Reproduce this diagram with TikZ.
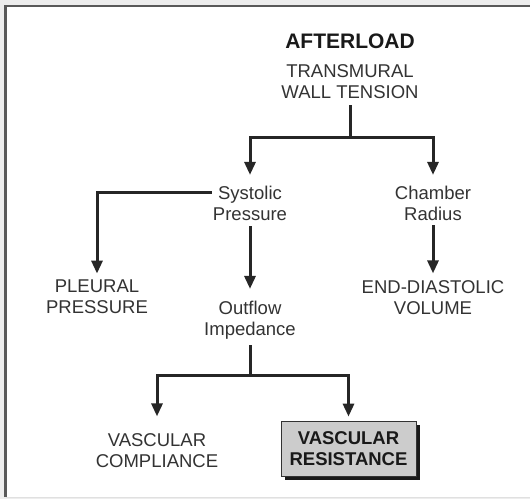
\documentclass[tikz,border=0pt]{standalone}
\usepackage{fontspec}
\setmainfont{Liberation Sans}
\usetikzlibrary{arrows.meta,shadows}
\begin{document}
\begin{tikzpicture}[x=1pt,y=-1pt,
  lbl/.style={align=center,inner sep=0pt,anchor=base,
    font=\fontsize{18.5}{20.5}\selectfont,text=black!80},
  title/.style={lbl,font=\bfseries\fontsize{21}{23}\selectfont,text=black!90},
  hibox/.style={align=center,inner sep=0pt,draw=black!80,line width=0.8pt,
    fill=black!20,minimum width=135pt,minimum height=55pt,
    font=\bfseries\fontsize{18.5}{21}\selectfont,text=black!90,
    drop shadow={shadow xshift=4pt,shadow yshift=-4pt,fill=black!90,opacity=1}},
  conn/.style={line width=3pt,draw=black!85,line join=miter},
  arr/.style={conn,-{Triangle[length=13pt,width=11pt]}}]
% background and frame
\useasboundingbox (0,0) rectangle (530,499);
\fill[black!7] (0,0) rectangle (530,499);
\fill[white] (5,6) rectangle (530,496.5);
\draw[black!65,line width=2.5pt] (5.5,497) -- (5.5,6.2) -- (530,6.2);
\draw[black!12,line width=0.8pt] (6,497) -- (530,497);
% nodes (anchor base = baseline of last line)
\node[title] (after) at (350,48) {AFTERLOAD};
\node[lbl] (tension) at (350,98) {TRANSMURAL\\WALL TENSION};
\node[lbl] (sys) at (250,220) {Systolic\\Pressure};
\node[lbl] (cham) at (433,220) {Chamber\\Radius};
\node[lbl] (pleu) at (97,313) {PLEURAL\\PRESSURE};
\node[lbl] (edv) at (433,314) {END-DIASTOLIC\\VOLUME};
\node[lbl] (outf) at (250,335) {Outflow\\Impedance};
\node[lbl] (comp) at (157,467) {VASCULAR\\COMPLIANCE};
\node[hibox] (res) at (348.5,448.5) {VASCULAR\\RESISTANCE};
% junctions
\coordinate (j1) at (350,137);
\coordinate (j3) at (250,375);
% connectors
\draw[conn] ([yshift=-7pt]tension.south) -- (j1);
\draw[arr] (j1) -| ([yshift=11pt]sys.north);
\draw[arr] (j1) -| ([yshift=11pt]cham.north);
\draw[arr] ([xshift=-1pt,yshift=27.5pt]sys.base west) -| ([yshift=6pt]pleu.north);
\draw[arr] ([yshift=-6pt]sys.south) -- ([yshift=12pt]outf.north);
\draw[arr] ([yshift=-5pt]cham.south) -- ([yshift=7pt]edv.north);
\draw[conn] ([yshift=-6pt]outf.south) -- (j3);
\draw[arr] (j3) -| ([yshift=17pt]comp.north);
\draw[arr] (j3) -| ([yshift=4pt]res.north);
\end{tikzpicture}
\end{document}
